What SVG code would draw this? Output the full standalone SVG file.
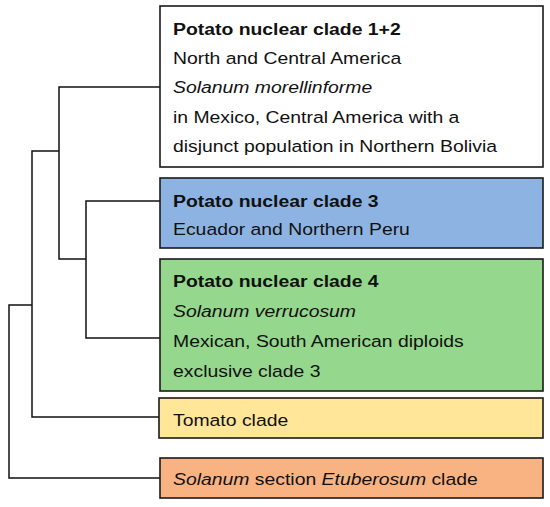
<svg xmlns="http://www.w3.org/2000/svg" width="550" height="507" viewBox="0 0 550 507">
<style>
.box{stroke:#1a1a1a;stroke-width:1.6}
.t{font-family:"Liberation Sans",Arial,sans-serif;font-size:17px;fill:#111}
.b{font-weight:bold}
.i{font-style:italic}
.edge{fill:none;stroke:#111;stroke-width:1.5}
</style>
<rect width="550" height="507" fill="#fff"/>
<g id="connectors">
<path class="edge" d="M160,87 H59 V259 H86"/>
<path class="edge" d="M160,201 H86 V338 H160"/>
<path class="edge" d="M59,151 H32 V417 H159"/>
<path class="edge" d="M32,305 H9 V478 H160"/>
</g>
<g id="clade12">
<rect class="box" x="160" y="6" width="383" height="161" fill="#fff"/>
<g transform="translate(173 0) scale(1.14 1)">
<text class="t b" x="0" y="35">Potato nuclear clade 1+2</text>
<text class="t" x="0" y="64">North and Central America</text>
<text class="t i" x="0" y="93">Solanum morellinforme</text>
<text class="t" x="0" y="123">in Mexico, Central America with a</text>
<text class="t" x="0" y="152">disjunct population in Northern Bolivia</text>
</g>
</g>
<g id="clade3">
<rect class="box" x="160" y="178" width="383" height="70" fill="#8DB3E2"/>
<g transform="translate(173 0) scale(1.14 1)">
<text class="t b" x="0" y="207">Potato nuclear clade 3</text>
<text class="t" x="0" y="235">Ecuador and Northern Peru</text>
</g>
</g>
<g id="clade4">
<rect class="box" x="160" y="259" width="383" height="132" fill="#95D78C"/>
<g transform="translate(173 0) scale(1.14 1)">
<text class="t b" x="0" y="287">Potato nuclear clade 4</text>
<text class="t i" x="0" y="317">Solanum verrucosum</text>
<text class="t" x="0" y="347">Mexican, South American diploids</text>
<text class="t" x="0" y="377">exclusive clade 3</text>
</g>
</g>
<g id="tomato">
<rect class="box" x="159" y="398" width="384" height="40" fill="#FFE699"/>
<g transform="translate(173 0) scale(1.14 1)">
<text class="t" x="0" y="426">Tomato clade</text>
</g>
</g>
<g id="etuberosum">
<rect class="box" x="160" y="458" width="383" height="40" fill="#F9B383"/>
<g transform="translate(173 0) scale(1.14 1)">
<text class="t" x="0" y="485"><tspan class="i">Solanum</tspan> section <tspan class="i">Etuberosum</tspan> clade</text>
</g>
</g>
</svg>
